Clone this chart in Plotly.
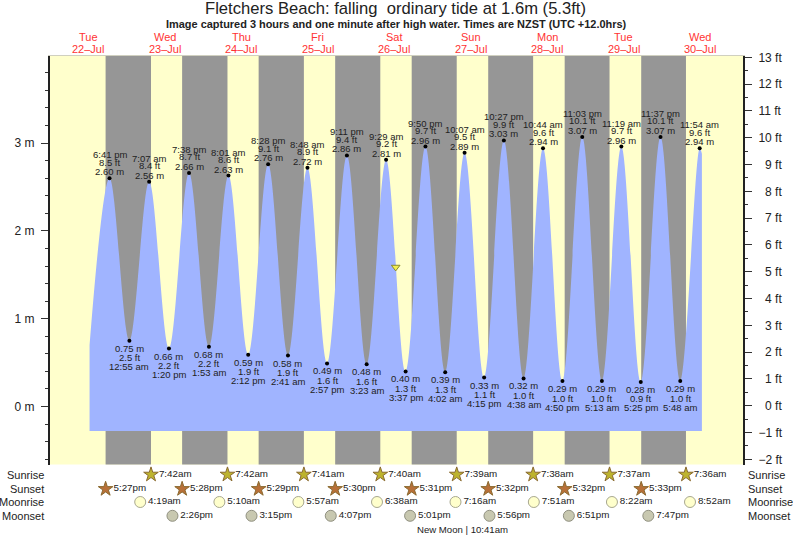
import plotly.graph_objects as go

FONT = "Liberation Sans"
W, H = 793, 537

days = ["Tue", "Wed", "Thu", "Fri", "Sat", "Sun", "Mon", "Tue", "Wed"]
dates = ["22-Jul", "23-Jul", "24-Jul", "25-Jul", "26-Jul", "27-Jul", "28-Jul", "29-Jul", "30-Jul"]
day_iso = ["2014-07-%d" % d for d in range(22, 31)]

high_t = ["22 18:41", "23 07:07", "23 19:38", "24 08:01", "24 20:28", "25 08:48", "25 21:11", "26 09:29",
          "26 21:50", "27 10:07", "27 22:27", "28 10:44", "28 23:03", "29 11:19", "29 23:37", "30 11:54"]
high_m = [2.60, 2.56, 2.66, 2.63, 2.76, 2.72, 2.86, 2.81, 2.96, 2.89, 3.03, 2.94, 3.07, 2.96, 3.07, 2.94]
high_ft = [8.5, 8.4, 8.7, 8.6, 9.1, 8.9, 9.4, 9.2, 9.7, 9.5, 9.9, 9.6, 10.1, 9.7, 10.1, 9.6]
high_lbl = ["6:41 pm", "7:07 am", "7:38 pm", "8:01 am", "8:28 pm", "8:48 am", "9:11 pm", "9:29 am",
            "9:50 pm", "10:07 am", "10:27 pm", "10:44 am", "11:03 pm", "11:19 am", "11:37 pm", "11:54 am"]

low_t = ["23 00:55", "23 13:20", "24 01:53", "24 14:12", "25 02:41", "25 14:57", "26 03:23", "26 15:37",
         "27 04:02", "27 16:15", "28 04:38", "28 16:50", "29 05:13", "29 17:25", "30 05:48"]
low_m = [0.75, 0.66, 0.68, 0.59, 0.58, 0.49, 0.48, 0.40, 0.39, 0.33, 0.32, 0.29, 0.29, 0.28, 0.29]
low_ft = [2.5, 2.2, 2.2, 1.9, 1.9, 1.6, 1.6, 1.3, 1.3, 1.1, 1.0, 1.0, 1.0, 0.9, 1.0]
low_lbl = ["12:55 am", "1:20 pm", "1:53 am", "2:12 pm", "2:41 am", "2:57 pm", "3:23 am", "3:37 pm",
           "4:02 am", "4:15 pm", "4:38 am", "4:50 pm", "5:13 am", "5:25 pm", "5:48 am"]

curve_start_t, curve_start_m = "22 12:25", 0.70
curve_end_t, curve_end_m = "30 12:36", 2.88
fill_floor_m = -0.28

sunrise_t = ["23 07:42", "24 07:42", "25 07:41", "26 07:40", "27 07:39", "28 07:38", "29 07:37", "30 07:36"]
sunrise_lbl = ["7:42am", "7:42am", "7:41am", "7:40am", "7:39am", "7:38am", "7:37am", "7:36am"]
sunset_t = ["22 17:27", "23 17:28", "24 17:29", "25 17:30", "26 17:31", "27 17:32", "28 17:32", "29 17:33"]
sunset_lbl = ["5:27pm", "5:28pm", "5:29pm", "5:30pm", "5:31pm", "5:32pm", "5:32pm", "5:33pm"]
moonrise_t = ["23 04:19", "24 05:10", "25 05:57", "26 06:38", "27 07:16", "28 07:51", "29 08:22", "30 08:52"]
moonrise_lbl = ["4:19am", "5:10am", "5:57am", "6:38am", "7:16am", "7:51am", "8:22am", "8:52am"]
moonset_t = ["23 14:26", "24 15:15", "25 16:07", "26 17:01", "27 17:56", "28 18:51", "29 19:47"]
moonset_lbl = ["2:26pm", "3:15pm", "4:07pm", "5:01pm", "5:56pm", "6:51pm", "7:47pm"]

now_t, now_ft = "26 12:30", 5.17

m_ticks = [0, 1, 2, 3]
ft_ticks = list(range(-2, 14))


def iso(s):
    return "2014-07-" + s


# Merge highs and lows in time order.
tides = sorted(list(zip(high_t, high_m)) + list(zip(low_t, low_m)))
curve_x = [iso(curve_start_t)] + [iso(t) for t, _ in tides] + [iso(curve_end_t)]
curve_y = [curve_start_m] + [v for _, v in tides] + [curve_end_m]

TXT = "#222222"
fig = go.Figure()

# baseline + tide
fig.add_trace(go.Scatter(x=[curve_x[0], curve_x[-1]], y=[fill_floor_m, fill_floor_m], mode="lines",
                         line=dict(width=0, color="#a0b4ff"), hoverinfo="skip", showlegend=False))
fig.add_trace(go.Scatter(x=curve_x, y=curve_y, mode="lines", fill="tonexty", fillcolor="#a0b4ff",
                         line=dict(width=0, color="#a0b4ff", shape="spline", smoothing=1.0),
                         hoverinfo="skip", showlegend=False))
fig.add_trace(go.Scatter(x=[iso(t) for t in high_t + low_t], y=high_m + low_m, mode="markers",
                         marker=dict(color="black", size=4), showlegend=False))
fig.add_trace(go.Scatter(x=[iso(now_t)], y=[now_ft], yaxis="y2", mode="markers",
                         marker=dict(symbol="triangle-down", size=7.5, color="#f2ee50",
                                     line=dict(color="#8a8a30", width=1)), showlegend=False))


def row(ts, labels, y, symbol, size, color, edge):
    fig.add_trace(go.Scatter(x=[iso(t) for t in ts], y=[y] * len(ts), yaxis="y3", mode="markers+text",
                             text=labels, textposition="middle right", cliponaxis=False,
                             textfont=dict(family=FONT, size=9.8, color=TXT),
                             marker=dict(symbol=symbol, size=size, color=color, line=dict(color=edge, width=1)),
                             showlegend=False))


row(sunrise_t, sunrise_lbl, 62.4, "star", 11, "#bdb32e", "#8a6a30")
row(sunset_t, sunset_lbl, 48, "star", 11, "#b87038", "#8a6a30")
row(moonrise_t, moonrise_lbl, 35, "circle", 11, "#ffffcc", "#a8a890")
row(moonset_t, moonset_lbl, 21.2, "circle", 11, "#c8c8b0", "#909080")

ymain = [72.5 / H, 481 / H]

shapes = [dict(type="rect", xref="x domain", yref="paper", x0=0, x1=1, y0=ymain[0], y1=ymain[1],
               fillcolor="#ffffcc", line=dict(width=0), layer="below")]
for a, b in zip(sunset_t, sunrise_t):
    shapes.append(dict(type="rect", xref="x", yref="paper", x0=iso(a), x1=iso(b), y0=ymain[0], y1=ymain[1],
                       fillcolor="#969696", line=dict(width=0), layer="below"))

ann = []


def note(x, y, text, size=9.5, xanchor="center", **kw):
    ann.append(dict(x=x, y=y, text=text, showarrow=False, xanchor=xanchor, yanchor="middle",
                    font=dict(family=FONT, size=size, color=kw.pop("color", TXT)), **kw))


for t, m, f, l in zip(high_t, high_m, high_ft, high_lbl):
    note(iso(t), m, "%.2f m" % m, xref="x", yref="y", yshift=6.5)
    note(iso(t), m, "%.1f ft" % f, xref="x", yref="y", yshift=16)
    note(iso(t), m, l, xref="x", yref="y", yshift=23.5)
for t, m, f, l in zip(low_t, low_m, low_ft, low_lbl):
    note(iso(t), m, "%.2f m" % m, xref="x", yref="y", yshift=-7.5)
    note(iso(t), m, "%.1f ft" % f, xref="x", yref="y", yshift=-17)
    note(iso(t), m, l, xref="x", yref="y", yshift=-26)

for d, day, date in zip(day_iso, days, dates):
    note(d + " 12:00", 1 - 36.5 / H, day, size=11, color="#ff3333", xref="x", yref="paper")
    note(d + " 12:00", 1 - 48.8 / H, date.replace("-", "\u2013"), size=11, color="#ff3333", xref="x", yref="paper")

for name, py in zip(["Sunrise", "Sunset", "Moonrise", "Moonset"], [475, 489, 502, 516]):
    note(45.5 / W, 1 - py / H, name, size=11, xref="paper", yref="paper", xanchor="right")
    note(746 / W, 1 - py / H, name, size=11, xref="paper", yref="paper", xanchor="left")

note(462.5 / W, 1 - 529.5 / H, "New Moon | 10:41am", size=9.6, xref="paper", yref="paper")
note(396.5 / W, 1 - 24.3 / H, "Image captured 3 hours and one minute after high water. Times are NZST (UTC +12.0hrs)",
     size=10.95, xref="paper", yref="paper")
ann[-1]["font"]["weight"] = "bold"

fig.update_layout(
    width=W, height=H, autosize=False,
    margin=dict(l=0, r=0, t=0, b=0),
    paper_bgcolor="white", plot_bgcolor="white",
    font=dict(family=FONT, color=TXT),
    showlegend=False,
    title=dict(text="Fletchers Beach: falling \u00a0ordinary tide at 1.6m (5.3ft)", x=395.5 / W, xanchor="center",
               y=1 - 8 / H, yanchor="middle", font=dict(family=FONT, size=16.6, color=TXT)),
    xaxis=dict(domain=[50 / W, 743 / W], type="date", range=["2014-07-22 00:00", "2014-07-31 01:30"],
               showgrid=False, zeroline=False, showticklabels=False, ticks="", side="top", anchor="y",
               showline=True, linecolor="#d0d0c0", linewidth=1, automargin=False),
    yaxis=dict(domain=ymain, range=[-0.6606, 3.992], anchor="x", showgrid=False, zeroline=False, automargin=False,
               tickmode="array", tickvals=m_ticks, ticktext=["%d m" % v for v in m_ticks],
               ticks="outside", ticklen=7, tickwidth=1, tickcolor="#333333", ticklabelstandoff=4,
               tickfont=dict(family=FONT, size=12, color=TXT),
               showline=True, linecolor="#222222", linewidth=2,
               minor=dict(ticks="outside", ticklen=3, tickwidth=1, tickcolor="#333333", tickmode="linear",
                          tick0=0, dtick=0.2, showgrid=False)),
    yaxis2=dict(domain=ymain, range=[-2.194, 13.05], anchor="x", overlaying="y", side="right", showgrid=False,
                zeroline=False, automargin=False, tickmode="array", tickvals=ft_ticks,
                ticktext=[("\u2212" + str(-v) if v < 0 else ("\u2007" + str(v) if v < 10 else str(v))) + " ft"
                          for v in ft_ticks],
                ticks="outside", ticklen=7, tickwidth=1, tickcolor="#333333", ticklabelstandoff=4,
                tickfont=dict(family=FONT, size=12, color=TXT),
                showline=True, linecolor="#222222", linewidth=2,
                minor=dict(ticks="outside", ticklen=3, tickwidth=1, tickcolor="#333333", tickmode="linear",
                           tick0=0, dtick=0.5, showgrid=False)),
    yaxis3=dict(domain=[0, 72.5 / H], range=[0, 72.5], anchor="x", visible=False, fixedrange=True, automargin=False),
    shapes=shapes,
    annotations=ann,
)

fig.write_html("out.html", config={"displayModeBar": False},
               post_script="document.body.style.margin='0';document.body.style.overflow='hidden';")
